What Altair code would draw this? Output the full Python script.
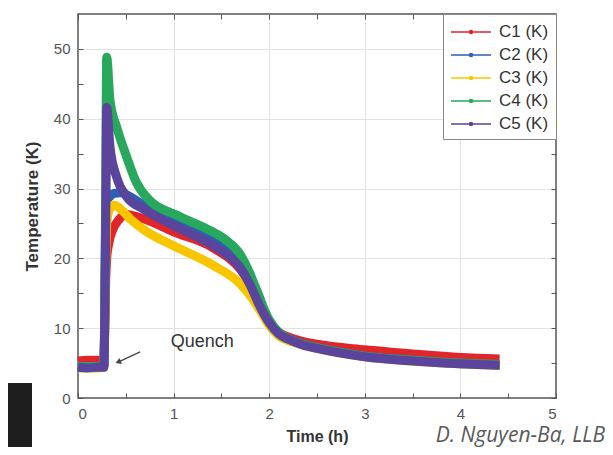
import altair as alt
import pandas as pd

# ---------------- data ----------------
series_names = ["C1 (K)", "C2 (K)", "C3 (K)", "C4 (K)", "C5 (K)"]
series_colors = ["#e0262a", "#2f5fb3", "#f7c600", "#27a85c", "#5a449c"]

c1_time = [0.0, 0.1, 0.2, 0.27, 0.28, 0.29, 0.30, 0.32, 0.36, 0.42, 0.5, 0.7, 1.0, 1.4, 1.7, 1.85, 2.0, 2.1, 2.25, 2.5, 3.0, 3.5, 4.0, 4.41]
c1_temp = [5.3, 5.4, 5.4, 5.4, 10.0, 17.0, 20.0, 22.0, 24.0, 25.4, 26.3, 25.6, 23.8, 21.6, 18.4, 15.2, 10.8, 9.4, 8.5, 7.7, 6.9, 6.3, 5.8, 5.6]

c2_time = [0.0, 0.1, 0.2, 0.27, 0.29, 0.30, 0.33, 0.38, 0.45, 0.55, 0.7, 1.0, 1.4, 1.7, 1.85, 2.0, 2.1, 2.25, 2.5, 3.0, 3.5, 4.0, 4.41]
c2_temp = [4.5, 4.4, 4.4, 4.5, 25.0, 28.3, 28.8, 29.3, 29.4, 28.8, 27.5, 25.3, 22.9, 19.6, 16.0, 11.0, 9.2, 8.2, 7.2, 6.0, 5.4, 4.9, 4.7]

c3_time = [0.0, 0.1, 0.2, 0.27, 0.29, 0.30, 0.33, 0.38, 0.45, 0.55, 0.7, 1.0, 1.4, 1.7, 1.82, 1.92, 2.0, 2.1, 2.25, 2.5, 3.0, 3.5, 4.0, 4.41]
c3_temp = [4.3, 4.3, 4.3, 4.4, 20.0, 25.0, 27.0, 27.6, 27.0, 25.6, 24.0, 21.8, 19.1, 16.3, 14.3, 12.2, 10.4, 8.9, 8.0, 7.1, 5.9, 5.3, 4.9, 4.7]

c4_time = [0.0, 0.1, 0.2, 0.27, 0.29, 0.30, 0.335, 0.405, 0.51, 0.61, 0.75, 1.03, 1.38, 1.55, 1.69, 1.8, 1.9, 2.0, 2.1, 2.2, 2.35, 2.5, 3.0, 3.5, 4.0, 4.41]
c4_temp = [4.5, 4.5, 4.5, 4.5, 30.0, 48.8, 42.6, 38.8, 34.5, 30.9, 28.3, 26.2, 24.0, 22.6, 20.7, 17.8, 14.2, 11.2, 9.4, 8.5, 7.7, 7.2, 6.0, 5.4, 5.0, 4.8]

c5_time = [0.0, 0.1, 0.2, 0.27, 0.29, 0.30, 0.335, 0.405, 0.51, 0.68, 1.03, 1.38, 1.55, 1.69, 1.8, 1.9, 2.0, 2.1, 2.2, 2.35, 2.5, 3.0, 3.5, 4.0, 4.41]
c5_temp = [4.4, 4.3, 4.4, 4.4, 25.0, 41.6, 35.9, 31.6, 28.8, 27.1, 24.5, 22.1, 20.6, 18.8, 16.2, 13.2, 10.8, 9.2, 8.4, 7.6, 7.1, 5.9, 5.3, 4.9, 4.7]

x_ticks = [0, 0.5, 1, 1.5, 2, 2.5, 3, 3.5, 4, 4.5, 5]
y_ticks = [0, 5, 10, 15, 20, 25, 30, 35, 40, 45, 50]

quench_label = ["Quench"]
quench_label_pos = [1.30, 8.0]          # (time, temperature)
arrow_time = [0.65, 0.42]
arrow_temp = [6.6, 5.15]

credit_text = ["D. Nguyen-Ba, LLB"]

# ---------------- build tables ----------------
rows = []
all_series = [(c1_time, c1_temp), (c2_time, c2_temp), (c3_time, c3_temp),
              (c4_time, c4_temp), (c5_time, c5_temp)]
for name, (ts, vs) in zip(series_names, all_series):
    for i, (t, v) in enumerate(zip(ts, vs)):
        rows.append({"series": name, "t": t, "T": v, "i": i})
df = pd.DataFrame(rows)

FONT = "Liberation Sans"
x_scale = alt.Scale(domain=[0, 5], nice=False, zero=False)
y_scale = alt.Scale(domain=[0, 55], nice=False, zero=False)

legend_symbol = "M-1,0H3M0.85,0A0.15,0.15,0,1,1,1.15,0A0.15,0.15,0,1,1,0.85,0"

x_axis_main = alt.Axis(
    values=x_ticks, labelExpr="datum.value % 1 === 0 ? format(datum.value, 'd') : ''",
    title="Time (h)", grid=False, domain=False, offset=-5, tickSize=5,
    tickColor="#555", labelFont=FONT, labelFontSize=15, labelColor="#555",
    labelPadding=8, titleFont=FONT, titleFontSize=16, titleFontWeight="bold",
    titleColor="#333", titlePadding=7,
)
y_axis_main = alt.Axis(
    values=y_ticks, labelExpr="datum.value % 10 === 0 ? format(datum.value, 'd') : ''",
    title="Temperature (K)", grid=False, domain=False, offset=-5, tickSize=5,
    tickColor="#555", labelFont=FONT, labelFontSize=15, labelColor="#555",
    labelPadding=8, titleFont=FONT, titleFontSize=17, titleFontWeight="bold",
    titleColor="#333", titlePadding=12,
)
x_axis_top = alt.Axis(
    orient="top", values=x_ticks, labels=False, title=None, domain=False,
    offset=-5, tickSize=5, tickColor="#555", grid=True, gridColor="#e2e2e2",
    gridOpacity={"condition": {"test": "datum.value % 1 === 0 && datum.value > 0 && datum.value < 5", "value": 1}, "value": 0},
)
y_axis_right = alt.Axis(
    orient="right", values=y_ticks, labels=False, title=None, domain=False,
    offset=-5, tickSize=5, tickColor="#555", grid=True, gridColor="#e2e2e2",
    gridOpacity={"condition": {"test": "datum.value % 10 === 0 && datum.value > 0", "value": 1}, "value": 0},
)

lines = alt.Chart(df).mark_line(strokeWidth=9, strokeJoin="round", interpolate="monotone").encode(
    x=alt.X("t:Q", scale=x_scale, axis=x_axis_main),
    y=alt.Y("T:Q", scale=y_scale, axis=y_axis_main),
    color=alt.Color(
        "series:N",
        scale=alt.Scale(domain=series_names, range=series_colors),
        legend=alt.Legend(
            orient="top-right", offset=0, title=None, symbolType=legend_symbol,
            symbolSize=400, symbolStrokeWidth=1.6, labelFont=FONT,
            labelFontSize=17, labelColor="#333", labelOffset=27, rowPadding=4,
            padding=7, strokeColor="#8a8a8a", fillColor="white",
        ),
    ),
    detail="series:N",
    order="i:Q",
)

qdf = pd.DataFrame({"t": [quench_label_pos[0]], "T": [quench_label_pos[1]], "label": quench_label})
quench = alt.Chart(qdf).mark_text(font=FONT, fontSize=18, color="#333", baseline="middle").encode(
    x=alt.X("t:Q", scale=x_scale, axis=x_axis_top),
    y=alt.Y("T:Q", scale=y_scale, axis=y_axis_right),
    text="label:N",
)

adf = pd.DataFrame({"t": arrow_time, "T": arrow_temp, "k": [0, 1]})
arrow_line = alt.Chart(adf).mark_line(color="#444", strokeWidth=1.3).encode(
    x=alt.X("t:Q", scale=x_scale, axis=None),
    y=alt.Y("T:Q", scale=y_scale, axis=None),
    order="k:Q",
)
arrow_head = alt.Chart(adf.iloc[[1]]).mark_point(
    shape="triangle-up", filled=True, size=40, angle=248, color="#444", opacity=1
).encode(
    x=alt.X("t:Q", scale=x_scale, axis=None),
    y=alt.Y("T:Q", scale=y_scale, axis=None),
)

cdf = pd.DataFrame({"label": credit_text})
credit = alt.Chart(cdf).mark_text(
    font="Open Sans", fontStyle="italic", fontSize=21, color="#595959",
    align="right", baseline="alphabetic",
).encode(x=alt.value(527), y=alt.value(428), text="label:N")

black_box = alt.Chart(cdf).mark_rect(color="#1e1e1e").encode(
    x=alt.value(-70), x2=alt.value(-46), y=alt.value(369), y2=alt.value(433)
)

chart = alt.layer(lines, quench, arrow_line, arrow_head, credit, black_box).resolve_axis(
    x="independent", y="independent"
).properties(
    width=478, height=384, autosize="none",
    padding={"left": 70, "top": 6, "right": 49, "bottom": 49},
    background="white",
).configure_view(stroke="#555", strokeWidth=1.5)

chart.save("out.html", embed_options={"renderer": "svg", "actions": False})
